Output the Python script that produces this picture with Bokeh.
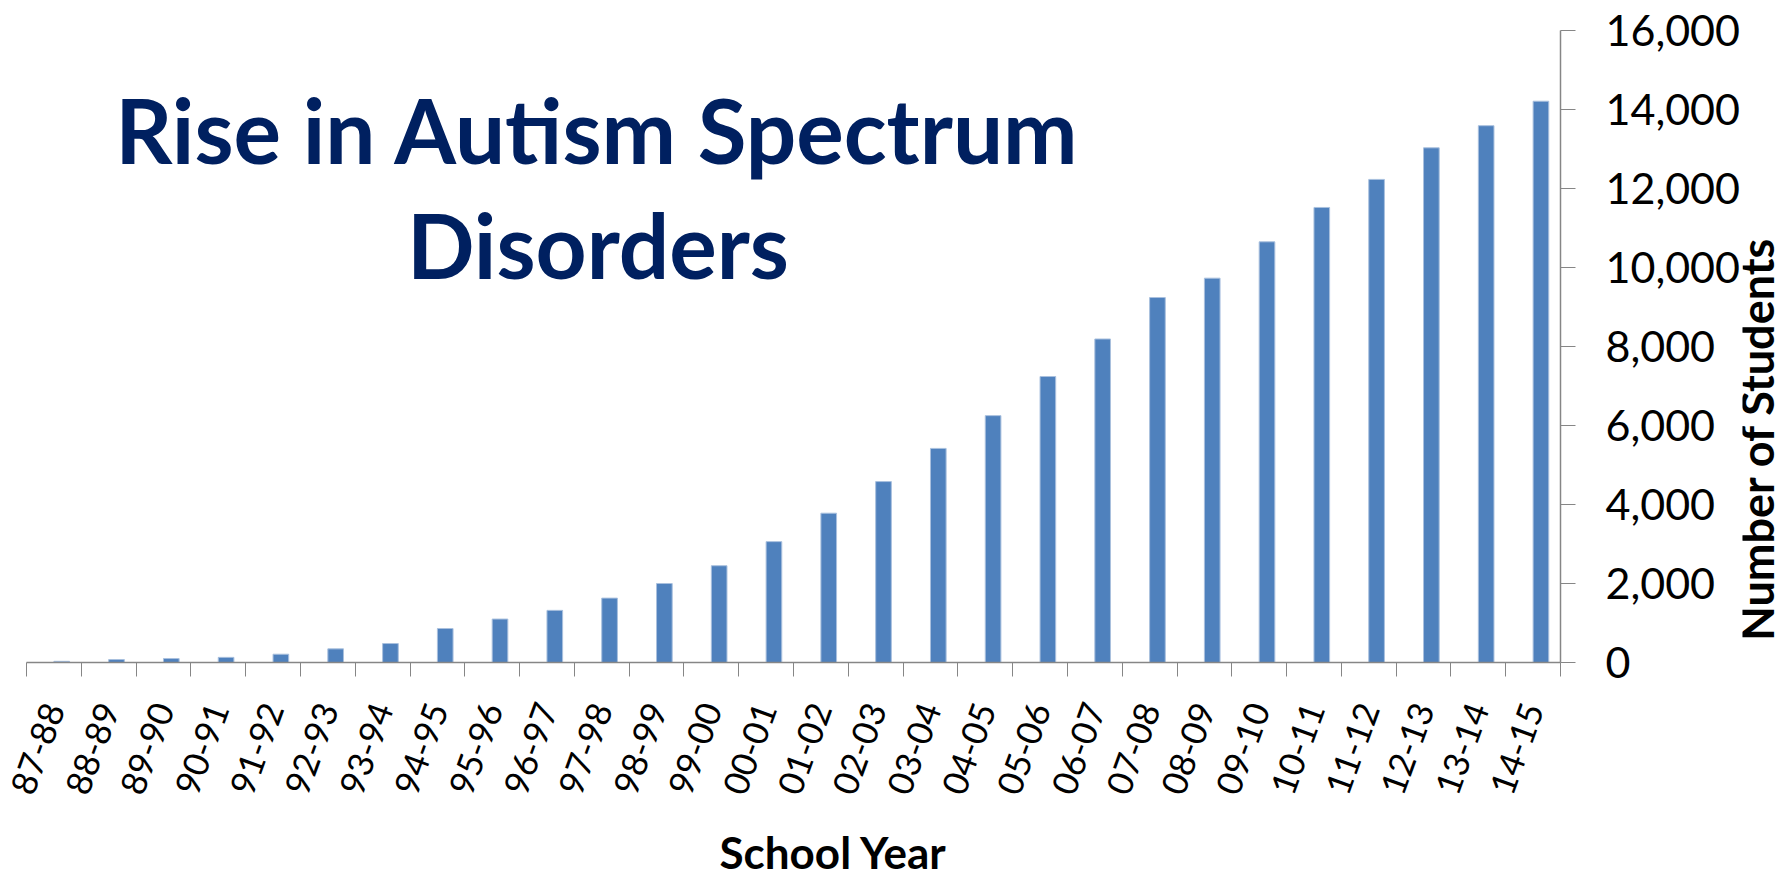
import math
from bokeh.plotting import figure
from bokeh.layouts import row
from bokeh.models import (ColumnDataSource, Range1d, FixedTicker, NumeralTickFormatter,
                          Label, Title)
from bokeh.transform import dodge
from bokeh.embed import file_html
from bokeh.resources import INLINE

# ---- data ----
school_years = ["87-88", "88-89", "89-90", "90-91", "91-92", "92-93", "93-94",
                "94-95", "95-96", "96-97", "97-98", "98-99", "99-00", "00-01",
                "01-02", "02-03", "03-04", "04-05", "05-06", "06-07", "07-08",
                "08-09", "09-10", "10-11", "11-12", "12-13", "13-14", "14-15"]
students = [30, 75, 100, 130, 210, 345, 480, 860, 1100, 1320, 1630, 2000, 2450,
            3060, 3780, 4580, 5420, 6250, 7240, 8190, 9240, 9730, 10650, 11520,
            12230, 13030, 13590, 14210]
y_ticks = [0, 2000, 4000, 6000, 8000, 10000, 12000, 14000, 16000]
title_lines = ["Rise in Autism Spectrum", "Disorders"]
x_title = "School Year"
y_title = "Number of Students"

n = len(school_years)
idx = list(range(n))
src = ColumnDataSource(dict(x=idx, y=students, cat=school_years))

FONT = "Lato"
AXIS_GRAY = "#868686"
MAIN_W = 26 + 1534 + 182
TOTAL_H = 878

p = figure(frame_width=1534, frame_height=632,
           x_range=Range1d(-0.5, n - 0.5), y_range=Range1d(0, 16000),
           y_axis_location="right", output_backend="svg", toolbar_location=None,
           min_border_left=26, min_border_top=30, min_border_right=182,
           min_border_bottom=TOTAL_H - 30 - 632)
p.outline_line_color = None
p.xgrid.visible = False
p.ygrid.visible = False
p.background_fill_color = "white"
p.border_fill_color = "white"

p.vbar(x=dodge("x", 0.143), top="y", width=0.2857, bottom=0, source=src,
       fill_color="#4F81BD", line_color="#A9C0DE", line_width=1)

# x axis: labels at category centres, tick marks at category boundaries
xa = p.xaxis[0]
xa.ticker = FixedTicker(ticks=idx, minor_ticks=[i - 0.5 for i in range(n + 1)])
xa.major_label_overrides = {i: c for i, c in enumerate(school_years)}
xa.major_tick_line_color = None
xa.major_tick_out = 0
xa.major_tick_in = 0
xa.minor_tick_line_color = AXIS_GRAY
xa.minor_tick_out = 14
xa.minor_tick_in = 0
xa.axis_line_color = AXIS_GRAY
xa.axis_line_width = 1.5
xa.major_label_orientation = 1.22
xa.major_label_text_font = FONT
xa.major_label_text_font_size = "35px"
xa.major_label_text_color = "black"
xa.major_label_standoff = 28

# x axis title, a little right of centre as in the original
p.add_layout(Title(text=x_title, align="left", offset=693, standoff=38,
                   text_font=FONT, text_font_style="bold", text_font_size="44px",
                   text_color="black"), "below")

ya = p.yaxis[0]
ya.ticker = FixedTicker(ticks=y_ticks)
ya.formatter = NumeralTickFormatter(format="0,0")
ya.minor_tick_line_color = None
ya.major_tick_line_color = AXIS_GRAY
ya.major_tick_out = 15
ya.major_tick_in = 0
ya.axis_line_color = AXIS_GRAY
ya.axis_line_width = 1.5
ya.major_label_text_font = FONT
ya.major_label_text_font_size = "43px"
ya.major_label_text_color = "black"
ya.major_label_standoff = 30

# chart title (inside plot area)
for txt, yb in zip(title_lines, [13500, 10580]):
    p.add_layout(Label(x=9.93, y=yb, text=txt, text_font=FONT,
                       text_font_style="bold", text_font_size="89px",
                       text_color="#002060", text_align="center",
                       text_baseline="alphabetic"))

# narrow strip at the right holding the vertical axis title
STRIP_W = 1785 - MAIN_W
py = figure(width=STRIP_W, height=TOTAL_H, x_range=Range1d(0, STRIP_W),
            y_range=Range1d(TOTAL_H, 0), x_axis_type=None, y_axis_type=None,
            output_backend="svg", toolbar_location=None, min_border=0)
py.outline_line_color = None
py.xgrid.visible = False
py.ygrid.visible = False
py.add_layout(Label(x=1756 - MAIN_W, y=584, text=y_title, text_font=FONT,
                    text_font_style="bold", text_font_size="45px",
                    text_color="black", text_align="center",
                    text_baseline="middle", angle=math.pi / 2))

layout = row(p, py, spacing=0)
open("out.html", "w").write(file_html(layout, INLINE))
